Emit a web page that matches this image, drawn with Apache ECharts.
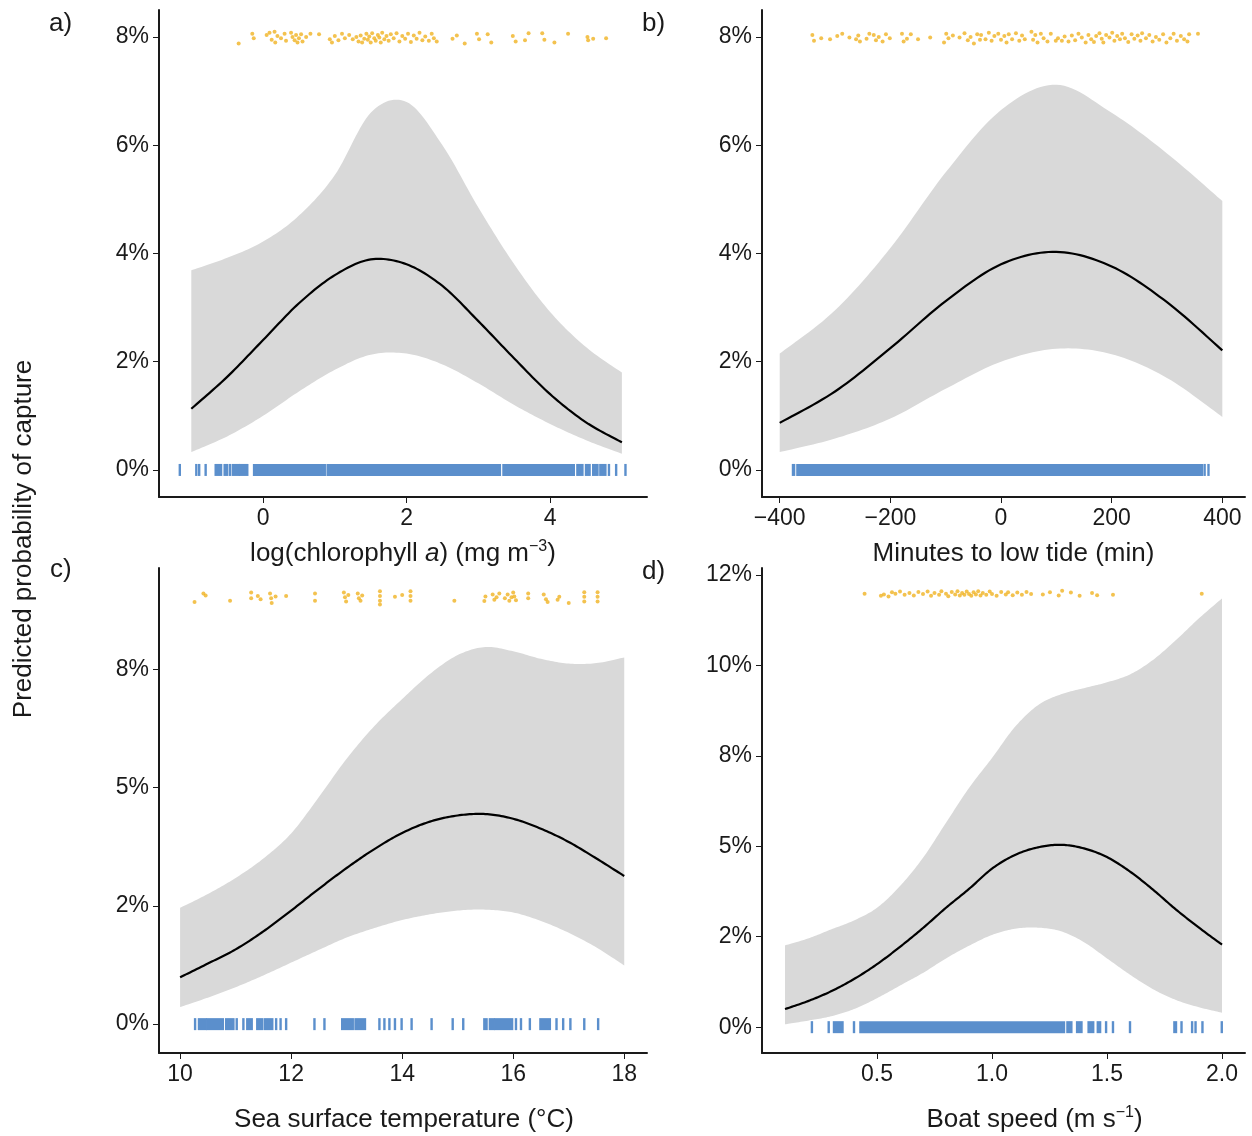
<!DOCTYPE html>
<html>
<head>
<meta charset="utf-8">
<script src="https://cdn.jsdelivr.net/npm/echarts@6/dist/echarts.min.js"></script>
<style>
html,body{margin:0;padding:0;background:#fff;}
#chart{width:1252px;height:1136px;}
</style>
</head>
<body>
<div id="chart"></div>
<script>
// ---------------- DATA ----------------
// Panel a: log(chlorophyll a)
const xA    = [-1, -0.5, 0, 0.5, 1, 1.5, 2, 2.5, 3, 3.5, 4, 4.5, 5];
const meanA = [1.13, 1.72, 2.40, 3.08, 3.60, 3.89, 3.80, 3.40, 2.75, 2.06, 1.40, 0.88, 0.51];
const upA   = [3.69, 3.92, 4.22, 4.70, 5.45, 6.60, 6.80, 6.00, 4.85, 3.80, 2.92, 2.27, 1.80];
const loA   = [0.33, 0.62, 1.00, 1.45, 1.85, 2.13, 2.15, 1.95, 1.60, 1.20, 0.85, 0.55, 0.30];
const xTicksA = [0, 2, 4];
const xLabelsA = ['0', '2', '4'];
const yTicksA = [0, 2, 4, 6, 8];
const yLabelsA = ['0%', '2%', '4%', '6%', '8%'];
const rugBlueA = [[-1.16,-1.16],[-0.93,-0.93],[-0.89,-0.89],[-0.80,-0.80],[-0.66,-0.585],[-0.535,-0.50],[-0.46,-0.46],[-0.42,-0.34],[-0.32,-0.22],[-0.125,0.86],[0.90,3.30],[3.35,4.33],[4.38,4.45],[4.50,4.55],[4.60,4.66],[4.70,4.77],[4.82,4.82],[4.92,4.92],[5.05,5.05]];
const rugOrangeA = [[-0.34,7.88],[-0.15,8.06],[-0.13,7.98],[0.05,8.04],[0.09,8.08],[0.12,7.95],[0.16,8.1],[0.17,7.9],[0.2,8.02],[0.25,7.98],[0.3,8.06],[0.32,7.93],[0.39,8.08],[0.41,8.0],[0.44,7.94],[0.46,8.04],[0.48,7.9],[0.5,7.98],[0.53,8.05],[0.55,7.92],[0.6,8.0],[0.66,8.06],[0.78,8.05],[0.93,7.96],[0.96,7.9],[1.0,8.02],[1.05,7.94],[1.1,8.06],[1.14,7.98],[1.2,8.04],[1.25,7.96],[1.3,8.0],[1.33,7.92],[1.36,8.03],[1.38,7.9],[1.41,7.97],[1.44,8.06],[1.46,7.95],[1.48,8.01],[1.5,7.9],[1.52,8.07],[1.55,7.98],[1.57,7.93],[1.6,8.04],[1.62,7.99],[1.64,7.9],[1.66,8.08],[1.69,7.96],[1.72,8.02],[1.75,7.93],[1.78,8.05],[1.82,7.98],[1.86,8.07],[1.9,7.92],[1.94,8.02],[1.98,7.97],[2.02,8.06],[2.06,7.91],[2.1,8.03],[2.14,7.97],[2.18,8.08],[2.22,7.94],[2.26,8.01],[2.31,7.93],[2.35,8.06],[2.38,7.98],[2.42,7.92],[2.64,7.97],[2.7,8.03],[2.81,7.88],[2.98,8.06],[3.01,7.96],[3.13,8.05],[3.18,7.9],[3.48,8.02],[3.52,7.92],[3.65,7.94],[3.7,8.07],[3.89,8.07],[3.92,7.95],[4.06,7.9],[4.25,8.06],[4.52,8.0],[4.53,7.94],[4.6,7.97],[4.78,7.98]];

// Panel b: minutes to low tide
const xB    = [-400, -300, -200, -100, 0, 100, 200, 300, 400];
const meanB = [0.87, 1.45, 2.25, 3.12, 3.80, 4.03, 3.76, 3.10, 2.21];
const upB   = [2.15, 2.95, 4.10, 5.50, 6.65, 7.12, 6.60, 5.85, 4.97];
const loB   = [0.33, 0.58, 0.95, 1.50, 2.00, 2.24, 2.14, 1.70, 0.98];
const xTicksB = [-400, -200, 0, 200, 400];
const xLabelsB = ['\u2212400', '\u2212200', '0', '200', '400'];
const yTicksB = [0, 2, 4, 6, 8];
const yLabelsB = ['0%', '2%', '4%', '6%', '8%'];
const rugBlueB = [[-376,-374],[-368,363],[368,368],[375,375]];
const rugOrangeB = [[-341,8.04],[-338,7.93],[-325,7.98],[-309,7.96],[-296,8.02],[-287,8.06],[-274,7.99],[-262,7.96],[-258,8.03],[-255,7.92],[-243,7.97],[-238,8.06],[-230,8.04],[-226,7.94],[-221,8.0],[-214,7.92],[-208,8.05],[-201,7.98],[-179,8.06],[-176,7.92],[-170,7.97],[-163,8.05],[-150,7.96],[-128,7.99],[-103,7.9],[-99,8.06],[-95,7.98],[-87,8.03],[-75,7.99],[-66,8.07],[-60,7.94],[-55,8.0],[-49,7.88],[-43,8.05],[-38,7.95],[-36,8.04],[-28,7.96],[-22,8.08],[-17,7.93],[-12,8.02],[-5,8.06],[0,7.95],[6,8.02],[10,7.9],[14,8.05],[20,7.96],[27,8.07],[33,7.93],[38,8.03],[43,7.96],[55,8.1],[58,7.95],[62,8.04],[66,7.9],[72,8.06],[77,7.98],[84,7.92],[90,8.06],[99,7.93],[103,7.98],[110,7.93],[115,8.01],[122,7.92],[128,8.03],[134,7.94],[140,8.06],[146,7.99],[153,7.9],[158,8.04],[163,7.96],[168,7.91],[172,8.02],[178,8.07],[182,7.97],[185,7.9],[190,8.04],[196,7.99],[201,8.08],[205,7.93],[210,8.02],[215,7.96],[219,8.06],[224,7.98],[230,7.91],[236,8.05],[241,7.97],[247,8.03],[252,7.93],[255,8.07],[262,7.98],[268,8.04],[274,7.92],[280,8.0],[286,7.95],[293,8.05],[299,7.9],[306,7.98],[312,8.06],[318,7.93],[325,8.02],[331,7.96],[337,7.92],[340,8.05],[356,8.06]];

// Panel c: sea surface temperature
const xC    = [10, 10.5, 11, 11.5, 12, 12.5, 13, 13.5, 14, 14.5, 15, 15.5, 16, 16.5, 17, 17.5, 18];
const meanC = [0.99, 1.28, 1.58, 1.96, 2.40, 2.86, 3.30, 3.70, 4.04, 4.28, 4.41, 4.44, 4.34, 4.13, 3.85, 3.50, 3.13];
const upC   = [2.46, 2.75, 3.09, 3.50, 4.03, 4.80, 5.61, 6.30, 6.87, 7.40, 7.80, 7.97, 7.88, 7.72, 7.62, 7.63, 7.75];
const loC   = [0.36, 0.56, 0.78, 1.03, 1.30, 1.57, 1.83, 2.03, 2.20, 2.32, 2.40, 2.42, 2.36, 2.18, 1.93, 1.62, 1.24];
const xTicksC = [10, 12, 14, 16, 18];
const xLabelsC = ['10', '12', '14', '16', '18'];
const yTicksC = [0, 2.5, 5, 7.5];
const yLabelsC = ['0%', '2%', '5%', '8%'];
const rugBlueC = [[10.27,10.27],[10.34,10.46],[10.49,10.77],[10.83,10.96],[11.02,11.02],[11.14,11.14],[11.21,11.29],[11.39,11.48],[11.53,11.66],[11.73,11.73],[11.81,11.81],[11.91,11.91],[12.42,12.42],[12.60,12.60],[12.92,13.11],[13.16,13.33],[13.59,13.59],[13.68,13.68],[13.77,13.77],[13.87,13.87],[13.99,13.99],[14.17,14.17],[14.53,14.53],[14.91,14.91],[15.10,15.10],[15.48,15.52],[15.58,15.65],[15.68,15.98],[16.05,16.05],[16.14,16.14],[16.30,16.30],[16.49,16.66],[16.78,16.78],[16.90,16.90],[17.03,17.03],[17.28,17.28],[17.53,17.53]];
const rugOrangeC = [[10.26,8.92],[10.42,9.1],[10.46,9.06],[10.9,8.95],[11.28,9.12],[11.28,9.0],[11.4,9.05],[11.45,8.98],[11.62,9.1],[11.64,9.0],[11.65,8.9],[11.72,9.04],[11.91,9.05],[12.43,9.1],[12.43,8.95],[12.95,9.12],[12.97,9.02],[12.99,8.93],[13.03,9.07],[13.2,9.1],[13.22,9.0],[13.25,8.95],[13.28,9.06],[13.6,9.15],[13.6,9.05],[13.6,8.95],[13.6,8.87],[13.87,9.03],[14.0,9.07],[14.15,9.15],[14.15,9.05],[14.15,8.95],[14.94,8.95],[15.48,8.94],[15.5,9.04],[15.63,9.08],[15.66,8.97],[15.7,9.02],[15.75,9.1],[15.85,9.0],[15.9,9.08],[15.93,8.95],[15.97,9.02],[16.0,9.12],[16.02,9.04],[16.05,8.96],[16.27,9.1],[16.27,9.0],[16.55,9.08],[16.59,8.98],[16.62,8.92],[16.8,8.97],[16.83,9.03],[17.0,8.9],[17.28,9.13],[17.28,9.03],[17.28,8.93],[17.52,9.13],[17.52,9.03],[17.52,8.93]];

// Panel d: boat speed
const xD    = [0.1, 0.2, 0.3, 0.4, 0.5, 0.6, 0.7, 0.8, 0.9, 1.0, 1.1, 1.2, 1.3, 1.4, 1.5, 1.6, 1.7, 1.8, 1.9, 2.0];
const meanD = [0.50, 0.72, 0.99, 1.33, 1.74, 2.22, 2.74, 3.30, 3.82, 4.38, 4.76, 4.97, 5.04, 4.94, 4.70, 4.30, 3.80, 3.25, 2.75, 2.28];
const upD   = [2.26, 2.45, 2.70, 2.95, 3.30, 3.90, 4.68, 5.65, 6.61, 7.44, 8.30, 8.90, 9.20, 9.37, 9.53, 9.75, 10.15, 10.70, 11.30, 11.85];
const loD   = [0.08, 0.18, 0.30, 0.50, 0.80, 1.15, 1.50, 1.90, 2.25, 2.55, 2.72, 2.75, 2.65, 2.35, 1.90, 1.45, 1.05, 0.75, 0.55, 0.40];
const xTicksD = [0.5, 1.0, 1.5, 2.0];
const xLabelsD = ['0.5', '1.0', '1.5', '2.0'];
const yTicksD = [0, 2.5, 5, 7.5, 10, 12.5];
const yLabelsD = ['0%', '2%', '5%', '8%', '10%', '12%'];
const rugBlueD = [[0.217,0.217],[0.29,0.29],[0.313,0.35],[0.40,0.40],[0.428,1.313],[1.328,1.345],[1.37,1.389],[1.42,1.44],[1.46,1.47],[1.496,1.496],[1.526,1.526],[1.60,1.60],[1.793,1.80],[1.824,1.824],[1.87,1.87],[1.885,1.885],[1.915,1.915],[1.999,1.999]];
const rugOrangeD = [[0.446,11.98],[0.517,11.92],[0.53,11.96],[0.55,11.9],[0.565,12.02],[0.58,11.98],[0.6,12.04],[0.62,11.95],[0.641,12.0],[0.66,11.93],[0.68,12.03],[0.7,11.97],[0.72,12.04],[0.735,11.92],[0.75,12.0],[0.77,11.95],[0.78,12.05],[0.8,11.98],[0.81,11.91],[0.825,12.03],[0.84,11.96],[0.85,12.05],[0.86,11.93],[0.87,12.0],[0.88,11.95],[0.89,12.04],[0.9,11.97],[0.91,11.92],[0.92,12.02],[0.93,11.96],[0.94,12.05],[0.95,11.93],[0.96,12.0],[0.975,11.95],[0.99,12.04],[1.0,11.97],[1.02,11.92],[1.04,12.03],[1.06,11.96],[1.07,12.02],[1.09,11.94],[1.11,12.01],[1.13,11.95],[1.15,12.03],[1.17,11.97],[1.221,11.96],[1.252,12.02],[1.29,11.93],[1.305,12.06],[1.343,12.01],[1.381,11.92],[1.435,12.0],[1.457,11.94],[1.526,11.95],[1.912,11.98]];

const axisTitles = [
  'log(chlorophyll {i|a}) (mg m{s|\u22123})',
  'Minutes to low tide (min)',
  'Sea surface temperature (\u00B0C)',
  'Boat speed (m s{s|\u22121})'
];
const panelLetters = ['a)', 'b)', 'c)', 'd)'];
const yTitle = 'Predicted probability of capture';

// ---------------- CHART ----------------
const FONT = "'Liberation Sans', Arial, Helvetica, sans-serif";
const INK = '#1a1a1a';
const BAND = '#d9d9d9';
const BLUE = '#5b8fcc';
const ORANGE = '#f0b323';

const panels = [
  {grid:{left:159, top:10, width:488, height:487}, xmin:-1.45, xmax:5.35, ymin:-0.5, ymax:8.5,
   xs:xA, mean:meanA, up:upA, lo:loA, xt:xTicksA, xl:xLabelsA, yt:yTicksA, yl:yLabelsA, blue:rugBlueA, orange:rugOrangeA, nameGap:42, namePad:[0,0,0,0]},
  {grid:{left:762, top:10, width:483, height:487}, xmin:-432, xmax:441, ymin:-0.5, ymax:8.5,
   xs:xB, mean:meanB, up:upB, lo:loB, xt:xTicksB, xl:xLabelsB, yt:yTicksB, yl:yLabelsB, blue:rugBlueB, orange:rugOrangeB, nameGap:42, namePad:[0,0,0,20]},
  {grid:{left:159, top:568, width:488, height:488}, xmin:9.62, xmax:18.41, ymin:-0.61, ymax:9.64,
   xs:xC, mean:meanC, up:upC, lo:loC, xt:xTicksC, xl:xLabelsC, yt:yTicksC, yl:yLabelsC, blue:rugBlueC, orange:rugOrangeC, nameGap:52, namePad:[0,0,0,2]},
  {grid:{left:762, top:568, width:483, height:488}, xmin:0, xmax:2.1, ymin:-0.714, ymax:12.69,
   xs:xD, mean:meanD, up:upD, lo:loD, xt:xTicksD, xl:xLabelsD, yt:yTicksD, yl:yLabelsD, blue:rugBlueD, orange:rugOrangeD, nameGap:52, namePad:[0,0,0,62]}
];

// Catmull-Rom smoothing of screen points (rendering only)
function smoothPts(pts) {
  const out = [];
  const n = pts.length;
  for (let i = 0; i < n - 1; i++) {
    const p0 = pts[Math.max(i - 1, 0)], p1 = pts[i], p2 = pts[i + 1], p3 = pts[Math.min(i + 2, n - 1)];
    const steps = 14;
    for (let s = 0; s < steps; s++) {
      const t = s / steps, t2 = t * t, t3 = t2 * t;
      const f = (a, b, c, d) => 0.5 * ((2 * b) + (-a + c) * t + (2 * a - 5 * b + 4 * c - d) * t2 + (-a + 3 * b - 3 * c + d) * t3);
      out.push([f(p0[0], p1[0], p2[0], p3[0]), f(p0[1], p1[1], p2[1], p3[1])]);
    }
  }
  out.push(pts[n - 1]);
  return out;
}

const grid = [], xAxis = [], yAxis = [], series = [];
panels.forEach((p, k) => {
  grid.push(Object.assign({containLabel:false}, p.grid));
  xAxis.push({
    type:'value', gridIndex:k, min:p.xmin, max:p.xmax,
    axisLine:{show:true, onZero:false, lineStyle:{color:INK, width:2}},
    axisTick:{show:true, length:6, lineStyle:{color:INK, width:1}, customValues:p.xt},
    axisLabel:{customValues:p.xt, margin:10, fontSize:23, fontFamily:FONT, color:INK,
      formatter:(v)=>{const i=p.xt.findIndex(t=>Math.abs(t-v)<1e-9); return i>=0?p.xl[i]:'';}},
    splitLine:{show:false},
    name:axisTitles[k], nameLocation:'middle', nameGap:p.nameGap,
    nameTextStyle:{fontSize:26, fontFamily:FONT, color:INK, lineHeight:30, padding:p.namePad,
      rich:{i:{fontSize:26, fontFamily:FONT, fontStyle:'italic', color:INK, lineHeight:30},
            s:{fontSize:16, fontFamily:FONT, color:INK, verticalAlign:'top', lineHeight:30}}}
  });
  yAxis.push({
    type:'value', gridIndex:k, min:p.ymin, max:p.ymax,
    axisLine:{show:true, onZero:false, lineStyle:{color:INK, width:2}},
    axisTick:{show:true, length:6, lineStyle:{color:INK, width:1}, customValues:p.yt},
    axisLabel:{customValues:p.yt, margin:10, fontSize:23, fontFamily:FONT, color:INK,
      formatter:(v)=>{const i=p.yt.findIndex(t=>Math.abs(t-v)<1e-9); return i>=0?p.yl[i]:'';}},
    splitLine:{show:false}
  });
  // confidence band
  series.push({
    type:'custom', xAxisIndex:k, yAxisIndex:k, silent:true, clip:true, z:1,
    data:[[p.xs[0], p.lo[0]]],
    renderItem:(params, api)=>{
      const up = smoothPts(p.xs.map((x,i)=>api.coord([x, p.up[i]])));
      const lo = smoothPts(p.xs.map((x,i)=>api.coord([x, p.lo[i]])));
      return {type:'polygon', shape:{points:up.concat(lo.reverse())}, style:{fill:BAND}};
    }
  });
  // mean curve
  series.push({
    type:'custom', xAxisIndex:k, yAxisIndex:k, silent:true, clip:true, z:5,
    data:[[p.xs[0], p.mean[0]]],
    renderItem:(params, api)=>{
      const pts = smoothPts(p.xs.map((x,i)=>api.coord([x, p.mean[i]])));
      return {type:'polyline', shape:{points:pts}, style:{stroke:'#000', lineWidth:2.2, fill:null}};
    }
  });
  // blue rug (non-captures at 0%)
  series.push({
    type:'custom', xAxisIndex:k, yAxisIndex:k, silent:true, z:4,
    data:p.blue.map(s=>[s[0], s[1], 0]),
    encode:{x:[0,1], y:2},
    renderItem:(params, api)=>{
      const a = api.coord([api.value(0), api.value(2)]);
      const b = api.coord([api.value(1), api.value(2)]);
      return {type:'rect', shape:{x:a[0]-1.2, y:a[1]-6, width:Math.max(b[0]-a[0],0)+2.4, height:12},
              style:{fill:BLUE}};
    }
  });
  // orange rug (captures)
  series.push({
    type:'scatter', xAxisIndex:k, yAxisIndex:k, silent:true, z:4,
    symbol:'circle', symbolSize:4, itemStyle:{color:ORANGE}, data:p.orange
  });
});

const graphic = [
  {type:'text', left:49, top:11, style:{text:panelLetters[0], fontSize:26, fontFamily:FONT, fill:INK}},
  {type:'text', left:642, top:11, style:{text:panelLetters[1], fontSize:26, fontFamily:FONT, fill:INK}},
  {type:'text', left:50, top:557, style:{text:panelLetters[2], fontSize:26, fontFamily:FONT, fill:INK}},
  {type:'text', left:642, top:559, style:{text:panelLetters[3], fontSize:26, fontFamily:FONT, fill:INK}},
  {type:'text', x:24, y:539, rotation:Math.PI/2,
   style:{text:yTitle, fontSize:26, fontFamily:FONT, fill:INK, align:'center', verticalAlign:'middle'}}
];

const chart = echarts.init(document.getElementById('chart'), null, {renderer:'canvas'});
chart.setOption({animation:false, backgroundColor:'#fff', grid, xAxis, yAxis, series, graphic});
</script>
</body>
</html>
